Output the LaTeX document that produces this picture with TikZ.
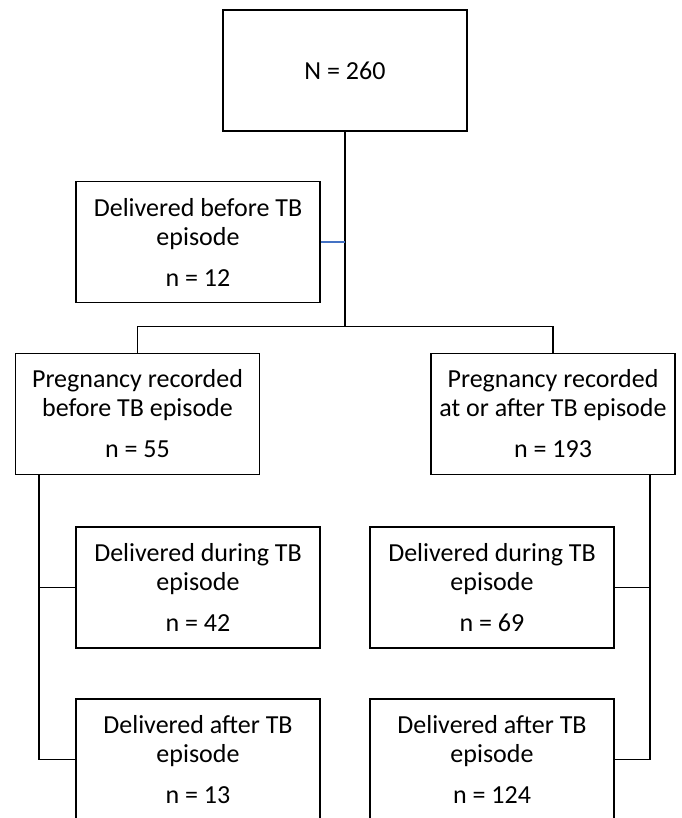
\documentclass[tikz,border=0pt]{standalone}
\usepackage{fontspec}
\setmainfont{Carlito}
\definecolor{linkblue}{HTML}{4472C4}
\begin{document}
\begin{tikzpicture}[x=0.75pt,y=-0.75pt,
  box/.style={draw=black,line width=1.4pt,minimum width=183pt,minimum height=90.75pt,
    inner sep=0pt,align=center,font=\fontsize{19.5}{21.75}\selectfont},
  conn/.style={draw=black,line width=1.2pt},
  bluelink/.style={draw=linkblue,line width=1pt}]
\useasboundingbox (0,0) rectangle (682,818);
\clip (0,0) rectangle (682,818);
\node[box] (top) at (345,70.5) {N = 260};
\node[box] (before) at (198,242) {Delivered before TB\\episode\\[9pt]n = 12};
\node[box] (prL) at (137.5,414) {Pregnancy recorded\\before TB episode\\[9pt]n = 55};
\node[box] (prR) at (553,414) {Pregnancy recorded\\at or after TB episode\\[9pt]n = 193};
\node[box] (dL) at (198,587.5) {Delivered during TB\\episode\\[9pt]n = 42};
\node[box] (dR) at (492,587.5) {Delivered during TB\\episode\\[9pt]n = 69};
\node[box] (aL) at (198,759.5) {Delivered after TB\\episode\\[9pt]n = 13};
\node[box] (aR) at (492,759.5) {Delivered after TB\\episode\\[9pt]n = 124};
\coordinate (j) at (345,327);
\coordinate (lv) at (39,475);
\coordinate (rv) at (650,475);
\draw[conn] (top.south) -- (j);
\draw[conn] (prL.north) -- ++(0,-26) -| (prR.north);
\draw[bluelink] (before.east) -- (before.east -| top.south);
\draw[conn] (lv) |- (aL.west);
\draw[conn] (dL.west) -- (dL.west -| lv);
\draw[conn] (rv) |- (aR.east);
\draw[conn] (dR.east) -- (dR.east -| rv);
\end{tikzpicture}
\end{document}
